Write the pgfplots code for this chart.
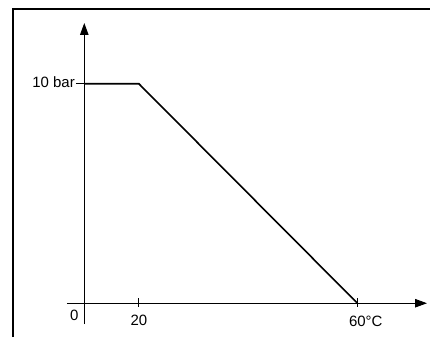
\documentclass[border=0pt]{standalone}
\usepackage{fontspec}
\setmainfont{Liberation Sans}
\usepackage{pgfplots}
\pgfplotsset{compat=1.18}
\usetikzlibrary{arrows.meta}
\tikzset{lbl/.style={font=\fontsize{15bp}{18bp}\selectfont, inner sep=0pt}}
\begin{document}
\begin{tikzpicture}
\begin{axis}[
  width=431bp, height=338bp, scale only axis,
  axis lines=none, xtick=\empty, ytick=\empty,
  xmin=-5.43, xmax=73.27, ymin=-1.545, ymax=13.818,
  clip=false,
]
\path (rel axis cs:0,0) rectangle (rel axis cs:1,1);
% frame
\draw[line width=2.2bp] (axis cs:-3.06,-1.545) -- (axis cs:-3.06,13.41) -- (axis cs:73.27,13.41);
% axes
\draw[line width=0.9bp, -{Triangle[length=12bp,width=8.5bp]}] (axis cs:6.80,0) -- (axis cs:72.74,0);
\draw[line width=0.9bp, -{Triangle[length=12bp,width=8.5bp]}] (axis cs:10,-0.955) -- (axis cs:10,12.77);
% ticks
\draw[line width=0.9bp] (axis cs:20,0.227) -- (axis cs:20,-0.182);
\draw[line width=0.9bp] (axis cs:60,0.227) -- (axis cs:60,-0.182);
\draw[line width=0.9bp] (axis cs:8.45,10) -- (axis cs:11.5,10);
% labels
\node[lbl, anchor=base east] at (axis cs:8.3,9.818) {10 bar};
\node[lbl, anchor=base] at (axis cs:8.17,-0.773) {0};
\node[lbl, anchor=base] at (axis cs:20,-1.0) {20};
\node[lbl, anchor=base] at (axis cs:60,-1.045) {60\rlap{°C}};
% data
\addplot[line width=1.6bp, black, mark=none] coordinates {(10,10) (20,10) (60,0)};
\end{axis}
\end{tikzpicture}
\end{document}
